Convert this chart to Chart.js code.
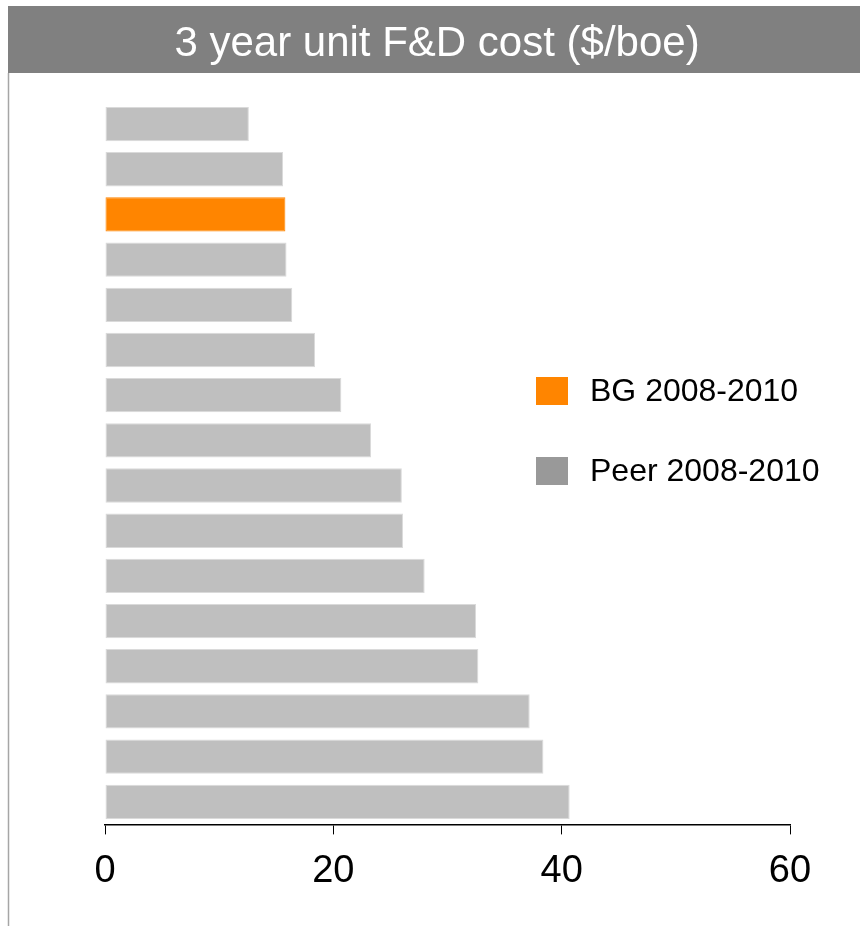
<!DOCTYPE html>
<html>
<head>
<meta charset="utf-8">
<script src="https://cdn.jsdelivr.net/npm/chart.js@4"></script>
<style>
  body { margin: 0; background: #fff; }
</style>
</head>
<body>
<canvas id="myChart1" width="860" height="926"></canvas>
<script>
var chartTitle = '3 year unit F&D cost ($/boe)';
var companies = ['Peer 1', 'Peer 2', 'BG', 'Peer 3', 'Peer 4', 'Peer 5', 'Peer 6', 'Peer 7',
                 'Peer 8', 'Peer 9', 'Peer 10', 'Peer 11', 'Peer 12', 'Peer 13', 'Peer 14', 'Peer 15'];
var costs = [12.6, 15.6, 15.8, 15.9, 16.4, 18.4, 20.7, 23.3, 26.0, 26.1, 28.0, 32.5, 32.7, 37.2, 38.4, 40.7];
var xTicks = [0, 20, 40, 60];
var legendLabels = ['BG 2008-2010', 'Peer 2008-2010'];
var legendColors = ['#ff8500', '#999999'];

var fontFamily = '"Liberation Sans", Arial, sans-serif';
var barColors = [];
var barBorders = [];
for (var n = 0; n < companies.length; n++) {
    if (companies[n] == 'BG') {
        barColors.push('#ff8500');
        barBorders.push('#ff8500');
    } else {
        barColors.push('#bfbfbf');
        barBorders.push('#dadada');
    }
}

// title bar, left frame line and the legend are drawn by hand
var framePlugin = {
    id: 'frame',
    beforeDraw: function (chart) {
        var ctx = chart.ctx;
        ctx.save();
        ctx.fillStyle = '#fff';
        ctx.fillRect(0, 0, chart.width, chart.height);
        ctx.fillStyle = '#808080';
        ctx.fillRect(8, 6, chart.width - 8, 67);
        ctx.strokeStyle = '#a6a6a6';
        ctx.lineWidth = 1.5;
        ctx.beginPath();
        ctx.moveTo(8.5, 73);
        ctx.lineTo(8.5, chart.height);
        ctx.stroke();
        ctx.fillStyle = '#ffffff';
        ctx.font = '42px ' + fontFamily;
        ctx.textAlign = 'center';
        ctx.textBaseline = 'middle';
        ctx.fillText(chartTitle, 437, 44);
        ctx.restore();
    },
    afterDraw: function (chart) {
        var ctx = chart.ctx;
        ctx.save();
        ctx.font = '32px ' + fontFamily;
        ctx.textAlign = 'left';
        ctx.textBaseline = 'middle';
        for (var i = 0; i < legendLabels.length; i++) {
            var y = 391 + i * 80;
            ctx.fillStyle = legendColors[i];
            ctx.fillRect(536, y - 14, 32, 28);
            ctx.fillStyle = '#000';
            ctx.fillText(legendLabels[i], 590, y + 1);
        }
        ctx.restore();
    }
};

var ctx = document.getElementById('myChart1').getContext('2d');
var thisChart = new Chart(ctx, {
    type: 'bar',
    data: {
        labels: companies,
        datasets: [{
            label: 'F&D cost',
            data: costs,
            backgroundColor: barColors,
            borderColor: barBorders,
            borderWidth: 1,
            borderSkipped: false,
            barPercentage: 0.76,
            categoryPercentage: 1
        }]
    },
    options: {
        indexAxis: 'y',
        responsive: false,
        animation: false,
        layout: {
            padding: { top: 101.5, left: 105, right: 70, bottom: 18 }
        },
        plugins: {
            legend: { display: false },
            title: { display: false },
            tooltip: { enabled: false }
        },
        scales: {
            x: {
                min: 0,
                max: 60,
                afterBuildTicks: function (axis) {
                    axis.ticks = xTicks.map(function (v) { return { value: v }; });
                },
                ticks: {
                    color: '#000',
                    padding: 14,
                    maxRotation: 0,
                    font: { family: fontFamily, size: 38 }
                },
                grid: {
                    drawOnChartArea: false,
                    drawTicks: true,
                    tickLength: 10,
                    tickColor: '#000',
                    color: '#000'
                },
                border: { display: true, color: '#000', width: 1.5 }
            },
            y: {
                display: false
            }
        }
    },
    plugins: [framePlugin]
});
</script>
</body>
</html>
